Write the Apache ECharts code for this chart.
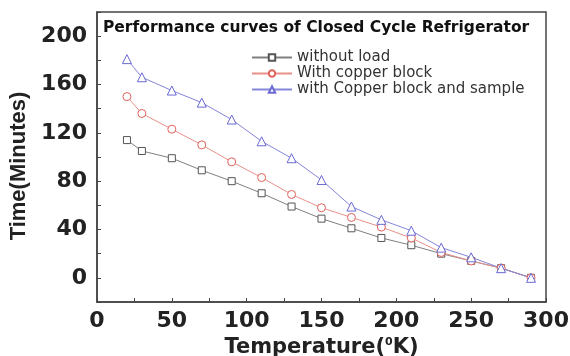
<!DOCTYPE html>
<html>
<head>
<meta charset="utf-8">
<script src="https://cdn.jsdelivr.net/npm/echarts@6/dist/echarts.min.js"></script>
<style>
  html, body { margin: 0; padding: 0; background: #fff; }
  #chart { width: 570px; height: 356px; }
</style>
</head>
<body>
<div id="chart"></div>
<script>
// Temperature points (K) where the cool-down time was recorded
const temperatures = [20, 30, 50, 70, 90, 110, 130, 150, 170, 190, 210, 230, 250, 270, 290];

// Cool-down time (minutes) for each load condition
const withoutLoad = [114, 105, 99, 89, 80, 70, 59, 49, 41, 33, 27, 20, 14, 8, 0];
const withCopperBlock = [150, 136, 123, 110, 96, 83, 69, 58, 50, 42, 33, 21, 14, 8, 0];
const withCopperAndSample = [181, 166, 155, 145, 131, 113, 99, 81, 59, 48, 39, 25, 17, 8, 0];

const seriesNames = ['without load', 'With copper block', 'with Copper block and sample'];
const chartTitle = 'Performance curves of Closed Cycle Refrigerator';

function pairs(ys) {
  return temperatures.map((t, i) => [t, ys[i]]);
}

const chart = echarts.init(document.getElementById('chart'), null, { renderer: 'canvas' });

const lineCommon = {
  type: 'line',
  symbolSize: 7,
  lineStyle: { width: 1 },
  itemStyle: { borderWidth: 1 },
  z: 3
};

chart.setOption({
  backgroundColor: '#fff',
  animation: false,
  title: {
    text: chartTitle,
    left: 98,
    top: 15,
    textStyle: { fontFamily: 'DejaVu Sans', fontWeight: 'bold', fontSize: 15.5, color: '#111' }
  },
  legend: {
    orient: 'vertical',
    left: 246,
    top: 45,
    itemWidth: 40,
    itemHeight: 8,
    itemGap: 1,
    data: seriesNames,
    textStyle: { fontFamily: 'DejaVu Sans', fontSize: 15, color: '#333' }
  },
  grid: {
    left: 97, right: 24, top: 12, bottom: 54,
    outerBoundsMode: 'none',
    containLabel: false,
    show: true, borderColor: '#444', borderWidth: 1.5
  },
  xAxis: {
    type: 'value',
    min: 0, max: 300, interval: 25,
    name: '{t|Temperature(}{s|0}{t|K)}',
    nameLocation: 'middle',
    nameGap: 31,
    nameTextStyle: {
      rich: {
        t: { fontFamily: 'DejaVu Sans', fontWeight: 'bold', fontSize: 21, color: '#222' },
        s: { fontFamily: 'DejaVu Sans', fontWeight: 'bold', fontSize: 11, color: '#222', verticalAlign: 'top', padding: [0, 0, 10, 0] }
      }
    },
    axisLine: { onZero: false, lineStyle: { color: '#444', width: 1.5 } },
    axisTick: { inside: true, length: 4, lineStyle: { color: '#444' } },
    splitLine: { show: false },
    axisLabel: {
      margin: 8,
      fontFamily: 'DejaVu Sans', fontWeight: 'bold', fontSize: 22, color: '#222',
      formatter: v => (v % 50 === 0 ? String(v) : '')
    }
  },
  yAxis: {
    type: 'value',
    min: -20, max: 220, interval: 20,
    name: 'Time(Minutes)',
    nameLocation: 'middle',
    nameGap: 56,
    nameTextStyle: { fontFamily: 'Liberation Sans', fontWeight: 'bold', fontSize: 22, color: '#222', padding: [0, 18, 0, 0] },
    axisLine: { onZero: false, lineStyle: { color: '#444', width: 1.5 } },
    axisTick: { inside: true, length: 4, lineStyle: { color: '#444' } },
    splitLine: { show: false },
    axisLabel: {
      margin: 10,
      fontFamily: 'DejaVu Sans', fontWeight: 'bold', fontSize: 22, color: '#222',
      formatter: v => (v >= 0 && v <= 200 && v % 40 === 0 ? String(v) : '')
    }
  },
  series: [
    Object.assign({}, lineCommon, {
      name: seriesNames[0], symbol: 'rect', data: pairs(withoutLoad),
      color: '#666', lineStyle: { width: 1, color: '#808080' },
      itemStyle: { color: '#fff', borderColor: '#555', borderWidth: 1 }
    }),
    Object.assign({}, lineCommon, {
      name: seriesNames[1], symbol: 'circle', symbolSize: 8, data: pairs(withCopperBlock),
      color: '#e07a70', lineStyle: { width: 1, color: '#e8918a' },
      itemStyle: { color: '#fff', borderColor: '#e0605a', borderWidth: 1 }
    }),
    Object.assign({}, lineCommon, {
      name: seriesNames[2], symbol: 'triangle', symbolSize: 9, data: pairs(withCopperAndSample),
      color: '#7a7ad8', lineStyle: { width: 1, color: '#8585da' },
      itemStyle: { color: '#fff', borderColor: '#6a6ad2', borderWidth: 1 }
    })
  ]
});
</script>
</body>
</html>
